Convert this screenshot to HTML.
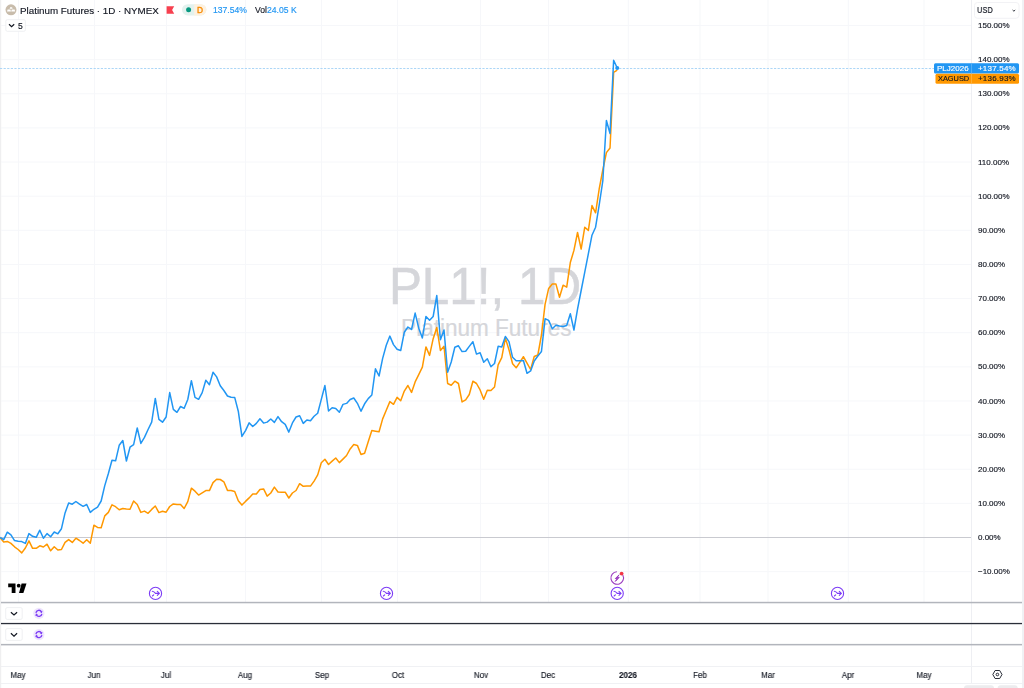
<!DOCTYPE html>
<html><head><meta charset="utf-8">
<style>
*{margin:0;padding:0;box-sizing:border-box}
html,body{width:1024px;height:688px;overflow:hidden;background:#fff;font-family:"Liberation Sans",sans-serif;color:#131722}
.t{position:absolute;white-space:pre;line-height:10px;will-change:transform;-webkit-text-stroke:0.15px currentColor}
svg{position:absolute;left:0;top:0}
.ax{font-size:8px;color:#131722;height:10px}
.mx{font-size:9px;color:#131722;width:60px;text-align:center;transform:scaleX(0.89)}
</style></head><body>
<svg width="1024" height="688" viewBox="0 0 1024 688">
<rect x="0" y="0" width="1.2" height="688" fill="#efeff0"/>
<rect x="1022" y="0" width="2" height="688" fill="#f0f1f4"/>
<rect x="18.0" y="0" width="1" height="602" fill="#f6f7fa"/><rect x="94.0" y="0" width="1" height="602" fill="#f6f7fa"/><rect x="166.0" y="0" width="1" height="602" fill="#f6f7fa"/><rect x="245.0" y="0" width="1" height="602" fill="#f6f7fa"/><rect x="321.0" y="0" width="1" height="602" fill="#f6f7fa"/><rect x="397.0" y="0" width="1" height="602" fill="#f6f7fa"/><rect x="480.0" y="0" width="1" height="602" fill="#f6f7fa"/><rect x="548.0" y="0" width="1" height="602" fill="#f6f7fa"/><rect x="627.8" y="0" width="1" height="602" fill="#f6f7fa"/><rect x="699.5" y="0" width="1" height="602" fill="#f6f7fa"/><rect x="767.5" y="0" width="1" height="602" fill="#f6f7fa"/><rect x="847.8" y="0" width="1" height="602" fill="#f6f7fa"/><rect x="923.5" y="0" width="1" height="602" fill="#f6f7fa"/><rect x="1" y="25.00" width="970" height="1" fill="#f6f7fa"/><rect x="1" y="59.14" width="970" height="1" fill="#f6f7fa"/><rect x="1" y="93.27" width="970" height="1" fill="#f6f7fa"/><rect x="1" y="127.40" width="970" height="1" fill="#f6f7fa"/><rect x="1" y="161.54" width="970" height="1" fill="#f6f7fa"/><rect x="1" y="195.67" width="970" height="1" fill="#f6f7fa"/><rect x="1" y="229.80" width="970" height="1" fill="#f6f7fa"/><rect x="1" y="263.94" width="970" height="1" fill="#f6f7fa"/><rect x="1" y="298.07" width="970" height="1" fill="#f6f7fa"/><rect x="1" y="332.20" width="970" height="1" fill="#f6f7fa"/><rect x="1" y="366.34" width="970" height="1" fill="#f6f7fa"/><rect x="1" y="400.47" width="970" height="1" fill="#f6f7fa"/><rect x="1" y="434.60" width="970" height="1" fill="#f6f7fa"/><rect x="1" y="468.73" width="970" height="1" fill="#f6f7fa"/><rect x="1" y="502.87" width="970" height="1" fill="#f6f7fa"/><rect x="1" y="571.13" width="970" height="1" fill="#f6f7fa"/>
<text transform="translate(388.9,304) scale(0.94,1)" font-family="Liberation Sans" font-size="52.6" fill="#d5d6da" stroke="#d5d6da" stroke-width="0.5">PL1!, 1D</text>
<text transform="translate(401.1,335.5) scale(0.932,1)" font-family="Liberation Sans" font-size="24.2" fill="#d5d6da" stroke="#d5d6da" stroke-width="0.25">Platinum Futures</text>
<rect x="1" y="537" width="970" height="1" fill="#c9cad0"/>
<line x1="0" y1="68.5" x2="934" y2="68.5" stroke="#acd6f7" stroke-width="1" stroke-dasharray="2.2 1.4"/>
<polyline points="0.10,537.80 3.71,541.90 7.32,541.40 10.93,543.40 14.54,546.80 18.15,549.50 21.75,552.90 25.36,548.00 28.97,540.90 32.58,548.30 36.19,548.30 39.80,545.80 43.41,547.00 47.02,544.20 50.63,550.80 54.23,546.80 57.84,550.00 61.45,549.50 65.06,542.40 68.67,539.60 72.28,542.40 75.89,538.20 79.50,540.50 83.11,543.20 86.72,539.70 90.32,543.20 93.93,525.20 97.54,527.40 101.15,527.80 104.76,515.90 108.37,512.40 111.98,504.80 115.59,506.70 119.20,509.80 122.81,508.50 126.41,508.90 130.02,509.20 133.63,501.00 137.24,504.50 140.85,512.40 144.46,511.10 148.07,513.30 151.68,509.40 155.29,506.00 158.90,512.60 162.50,511.30 166.11,512.20 169.72,506.50 173.33,503.90 176.94,504.60 180.55,504.60 184.16,508.50 187.77,501.60 191.38,488.20 194.99,491.20 198.59,495.10 202.20,492.80 205.81,490.60 209.42,490.60 213.03,482.60 216.64,479.20 220.25,479.50 223.86,481.80 227.47,490.40 231.08,490.60 234.69,491.50 238.29,500.70 241.90,505.10 245.51,501.40 249.12,497.90 252.73,494.10 256.34,493.90 259.95,489.60 263.56,488.90 267.17,496.10 270.78,493.00 274.38,487.10 277.99,492.00 281.60,492.20 285.21,492.20 288.82,498.00 292.43,493.00 296.04,490.50 299.65,483.70 303.26,486.30 306.87,485.90 310.47,486.10 314.08,481.10 317.69,474.90 321.30,462.70 324.91,459.30 328.52,464.50 332.13,461.10 335.74,458.00 339.35,462.60 342.96,459.10 346.56,455.50 350.17,448.90 353.78,444.60 357.39,445.40 361.00,454.50 364.61,453.20 368.22,441.80 371.83,430.60 375.44,431.20 379.05,431.80 382.65,418.90 386.26,410.30 389.87,401.60 393.48,404.30 397.09,397.40 400.70,400.80 404.31,391.10 407.92,385.50 411.53,392.40 415.14,381.90 418.74,374.70 422.35,367.20 425.96,346.90 429.57,355.40 433.18,338.70 436.79,327.50 440.40,350.40 444.01,346.30 447.62,383.50 451.23,385.20 454.83,381.20 458.44,383.50 462.05,401.90 465.66,399.80 469.27,394.50 472.88,381.20 476.49,383.50 480.10,389.90 483.71,399.20 487.31,390.20 490.92,390.50 494.53,387.00 498.14,364.90 501.75,357.70 505.36,338.10 508.97,349.80 512.58,363.70 516.19,367.80 519.80,362.30 523.40,356.70 527.01,363.10 530.62,369.50 534.23,356.50 537.84,355.00 541.45,335.00 545.06,304.40 548.67,288.40 552.28,284.10 555.89,283.90 559.50,297.20 563.10,285.20 566.71,287.10 570.32,262.50 573.93,250.40 577.54,232.50 581.15,249.10 584.76,227.20 588.37,230.40 591.98,205.60 595.59,212.80 599.19,189.00 602.80,170.00 606.41,152.60 610.02,148.00 613.63,72.40 617.24,70.10" fill="none" stroke="#ff9800" stroke-width="1.5" stroke-linejoin="round"/>
<polyline points="0.10,537.30 3.71,539.60 7.32,532.20 10.93,534.80 14.54,540.60 18.15,541.20 21.75,541.60 25.36,543.40 28.97,533.60 32.58,536.30 36.19,537.30 39.80,530.20 43.41,538.30 47.02,533.60 50.63,536.80 54.23,532.00 57.84,533.80 61.45,528.70 65.06,512.90 68.67,503.00 72.28,504.20 75.89,501.50 79.50,504.10 83.11,506.30 86.72,504.50 90.32,512.40 93.93,509.30 97.54,507.10 101.15,501.00 104.76,485.60 108.37,473.50 111.98,460.20 115.59,460.80 119.20,445.30 122.81,440.50 126.41,461.00 130.02,447.20 133.63,444.60 137.24,428.00 140.85,443.40 144.46,437.40 148.07,429.50 151.68,422.20 155.29,398.40 158.90,419.30 162.50,422.20 166.11,417.00 169.72,392.60 173.33,409.40 176.94,412.30 180.55,406.50 184.16,408.30 187.77,399.50 191.38,380.70 194.99,397.40 198.59,399.30 202.20,392.60 205.81,380.30 209.42,384.70 213.03,372.20 216.64,376.90 220.25,385.80 223.86,390.50 227.47,396.00 231.08,397.20 234.69,397.40 238.29,411.20 241.90,436.40 245.51,430.60 249.12,422.90 252.73,426.50 256.34,423.40 259.95,418.80 263.56,423.10 267.17,422.10 270.78,419.00 274.38,422.40 277.99,416.60 281.60,421.70 285.21,424.40 288.82,432.10 292.43,422.90 296.04,417.00 299.65,415.80 303.26,423.40 306.87,420.00 310.47,420.70 314.08,416.30 317.69,413.20 321.30,399.40 324.91,385.50 328.52,411.00 332.13,407.70 335.74,408.40 339.35,412.20 342.96,404.40 346.56,403.40 350.17,399.50 353.78,398.00 357.39,403.30 361.00,411.20 364.61,403.80 368.22,398.60 371.83,395.00 375.44,368.80 379.05,376.00 382.65,358.40 386.26,345.30 389.87,336.10 393.48,344.60 397.09,349.20 400.70,350.50 404.31,332.20 407.92,327.00 411.53,329.50 415.14,313.10 418.74,328.20 422.35,338.00 425.96,316.40 429.57,320.30 433.18,316.40 436.79,295.50 440.40,339.70 444.01,330.00 447.62,372.20 451.23,362.00 454.83,347.30 458.44,345.80 462.05,351.60 465.66,351.30 469.27,346.40 472.88,341.70 476.49,354.10 480.10,352.70 483.71,362.20 487.31,358.70 490.92,366.70 494.53,363.50 498.14,346.30 501.75,346.90 505.36,336.40 508.97,341.60 512.58,357.30 516.19,360.80 519.80,360.80 523.40,360.50 527.01,373.30 530.62,370.90 534.23,361.00 537.84,356.00 541.45,351.50 545.06,318.80 548.67,320.40 552.28,328.70 555.89,325.20 559.50,326.00 563.10,326.50 566.71,325.50 570.32,313.70 573.93,330.00 577.54,309.20 581.15,290.50 584.76,272.20 588.37,253.70 591.98,235.20 595.59,227.20 599.19,205.00 602.80,181.00 606.41,120.50 610.02,133.50 613.63,60.20 617.24,68.00" fill="none" stroke="#2196f3" stroke-width="1.5" stroke-linejoin="round"/>
<circle cx="617.24" cy="68" r="2" fill="#2196f3"/>
<rect x="971" y="0" width="1" height="683" fill="#eeeff3"/>
<rect x="1" y="601.8" width="1021" height="1.5" fill="#b2b5bc"/>
<rect x="1" y="622.9" width="1021" height="1.3" fill="#2a2e39"/>
<rect x="1" y="643.9" width="1021" height="1.5" fill="#b2b5bc"/>
<rect x="1" y="666" width="1021" height="1" fill="#f0f1f4"/>
<rect x="1" y="683" width="1021" height="1" fill="#f0f1f4"/>
<!-- header icon -->
<circle cx="11" cy="9.8" r="5.5" fill="#c8bcab"/>
<path d="M9.6,8.7 l0.5,-1.4 h2 l0.5,1.4 z M7,11.6 l0.6,-2.1 h2.8 l0.6,2.1 z M11.2,11.6 l0.6,-2.1 h2.8 l0.6,2.1 z" fill="#fff"/>
<!-- flag -->
<path d="M166.6,6.15 h7.6 l-2.1,3.8 l2.1,3.75 h-7.6 z" fill="#f7404f"/>
<!-- pill -->
<rect x="182" y="4.2" width="24.4" height="11.2" rx="5.6" fill="#e3f2ee"/>
<path d="M194.2,4.2 h6.6 a5.6,5.6 0 0 1 0,11.2 h-6.6 z" fill="#fef1df"/>
<circle cx="188.6" cy="9.8" r="2.5" fill="#089981"/>
<!-- 5 box -->
<rect x="5.8" y="19.7" width="19.6" height="11.6" rx="1.5" fill="#fff" stroke="#ebecef" stroke-width="0.8"/>
<path d="M9,24.3 l2.6,2.4 l2.6,-2.4" fill="none" stroke="#131722" stroke-width="1.2"/>
<!-- USD box -->
<rect x="974.5" y="2.5" width="44.5" height="15.8" rx="3" fill="#fff" stroke="#f0f1f4" stroke-width="0.9"/>
<path d="M1012.6,10 l1.3,1.2 l1.3,-1.2" fill="none" stroke="#131722" stroke-width="0.9"/>
<!-- price labels -->
<rect x="934" y="63.2" width="85" height="10.3" rx="1.5" fill="#2196f3"/>
<rect x="971" y="63.2" width="0.8" height="10.3" fill="#5eb3f6"/>
<rect x="935.5" y="73.8" width="83.5" height="10" rx="1.5" fill="#ff9800"/>
<rect x="971" y="73.8" width="0.8" height="10" fill="#ffb33f"/>
<!-- TV logo -->
<path d="M8.2,583.6 h7.3 v9.4 h-3.8 v-5.7 h-3.5 z" fill="#000"/>
<circle cx="18.7" cy="585.7" r="1.9" fill="#000"/>
<path d="M21.6,583.6 h4.9 l-3.1,9.4 h-4.4 z" fill="#000"/>
<!-- events -->
<g transform="translate(155.5,593.4)" fill="none" stroke="#7c3cf5" stroke-linecap="round" stroke-linejoin="round">
<circle r="6.1" stroke-width="1.1"/>
<path d="M-3.2,-2.1 Q-1.5,-2 0,0 L3.8,0 M1.8,-2 L3.9,0 L1.8,2 M-3.1,2.6 L-1.8,1.4" stroke-width="1.1"/>
</g>
<g transform="translate(386.5,593.4)" fill="none" stroke="#7c3cf5" stroke-linecap="round" stroke-linejoin="round">
<circle r="6.1" stroke-width="1.1"/>
<path d="M-3.2,-2.1 Q-1.5,-2 0,0 L3.8,0 M1.8,-2 L3.9,0 L1.8,2 M-3.1,2.6 L-1.8,1.4" stroke-width="1.1"/>
</g>
<g transform="translate(617.2,593.4)" fill="none" stroke="#7c3cf5" stroke-linecap="round" stroke-linejoin="round">
<circle r="6.1" stroke-width="1.1"/>
<path d="M-3.2,-2.1 Q-1.5,-2 0,0 L3.8,0 M1.8,-2 L3.9,0 L1.8,2 M-3.1,2.6 L-1.8,1.4" stroke-width="1.1"/>
</g>
<g transform="translate(837.5,593.4)" fill="none" stroke="#7c3cf5" stroke-linecap="round" stroke-linejoin="round">
<circle r="6.1" stroke-width="1.1"/>
<path d="M-3.2,-2.1 Q-1.5,-2 0,0 L3.8,0 M1.8,-2 L3.9,0 L1.8,2 M-3.1,2.6 L-1.8,1.4" stroke-width="1.1"/>
</g>
<g transform="translate(617.2,578)">
<path d="M5.6,-2.9 A6.3,6.3 0 1 1 -0.3,-6.3" fill="none" stroke="#9c3dc0" stroke-width="1.1"/>
<path d="M1.9,-3.2 L-1.9,0.6 L0.2,0.6 L-1.9,3.4 L2,-0.6 L-0.1,-0.6 Z" fill="#9c3dc0" stroke="#9c3dc0" stroke-width="1" stroke-linejoin="round"/>
<circle cx="4.4" cy="-4.4" r="1.9" fill="#f23645"/>
</g>
<!-- pane controls -->
<rect x="5.7" y="607.6" width="16.5" height="11.8" rx="1.5" fill="#fff" stroke="#ebecef" stroke-width="0.8"/>
<path d="M10.9,612.2 l3.1,2.8 l3.1,-2.8" fill="none" stroke="#131722" stroke-width="1.2"/>
<rect x="5.7" y="628.6" width="16.5" height="11.8" rx="1.5" fill="#fff" stroke="#ebecef" stroke-width="0.8"/>
<path d="M10.9,633.3 l3.1,2.8 l3.1,-2.8" fill="none" stroke="#131722" stroke-width="1.2"/>
<g transform="translate(38.9,613.3)"><circle r="5.6" fill="#efe6fd"/><path d="M-3,-0.5 A3,3 0 0 1 2.6,-1.5 M3,0.5 A3,3 0 0 1 -2.6,1.5" fill="none" stroke="#7c3cf5" stroke-width="1.3"/><path d="M3.6,-2.6 L2.9,0 L0.8,-1.6 Z M-3.6,2.6 L-2.9,0 L-0.8,1.6 Z" fill="#7c3cf5"/></g>
<g transform="translate(38.9,634.6)"><circle r="5.6" fill="#efe6fd"/><path d="M-3,-0.5 A3,3 0 0 1 2.6,-1.5 M3,0.5 A3,3 0 0 1 -2.6,1.5" fill="none" stroke="#7c3cf5" stroke-width="1.3"/><path d="M3.6,-2.6 L2.9,0 L0.8,-1.6 Z M-3.6,2.6 L-2.9,0 L-0.8,1.6 Z" fill="#7c3cf5"/></g>
<!-- settings hex -->
<g transform="translate(997.4,674.5)"><path d="M-4.6,0 L-2.3,-4 L2.3,-4 L4.6,0 L2.3,4 L-2.3,4 Z" fill="none" stroke="#131722" stroke-width="0.9"/><circle r="1.3" fill="none" stroke="#131722" stroke-width="0.9"/></g>
<!-- bottom shapes -->
<rect x="964" y="685.3" width="30" height="8" rx="3" fill="#ececee"/>
<rect x="997.6" y="685.3" width="20.2" height="8" rx="3" fill="#ececee"/>
</svg>
<div class="t" style="left:19.7px;top:5.5px;font-size:9.8px;color:#131722">Platinum Futures · 1D · NYMEX</div>
<div class="t" style="left:197.3px;top:4.6px;font-size:8.4px;color:#f68a00;-webkit-text-stroke:0.35px #f68a00">D</div>
<div class="t" style="left:212.5px;top:5.3px;font-size:8.6px;color:#2196f3">137.54%</div>
<div class="t" style="left:254.7px;top:5.3px;font-size:8.6px;color:#131722">Vol</div>
<div class="t" style="left:266.6px;top:5.3px;font-size:8.6px;color:#2196f3">24.05 K</div>
<div class="t" style="left:17.5px;top:21px;font-size:8.6px;color:#131722">5</div>
<div class="t" style="left:976.5px;top:5.3px;font-size:9px;color:#131722;transform:scaleX(0.83);transform-origin:0 0">USD</div>
<div class="t" style="left:937px;top:64px;font-size:8px;color:#fff">PLJ2026</div>
<div class="t" style="left:977.6px;top:64px;font-size:8px;letter-spacing:0.2px;color:#fff">+137.54%</div>
<div class="t" style="left:938px;top:74px;font-size:7.4px;color:#131722">XAGUSD</div>
<div class="t" style="left:977.6px;top:74px;font-size:8px;letter-spacing:0.2px;color:#131722">+136.93%</div>
<div class="t ax" style="left:978.2px;top:21.0px">150.00%</div><div class="t ax" style="left:978.2px;top:55.1px">140.00%</div><div class="t ax" style="left:978.2px;top:89.3px">130.00%</div><div class="t ax" style="left:978.2px;top:123.4px">120.00%</div><div class="t ax" style="left:978.2px;top:157.5px">110.00%</div><div class="t ax" style="left:978.2px;top:191.7px">100.00%</div><div class="t ax" style="left:978.2px;top:225.8px">90.00%</div><div class="t ax" style="left:978.2px;top:259.9px">80.00%</div><div class="t ax" style="left:978.2px;top:294.1px">70.00%</div><div class="t ax" style="left:978.2px;top:328.2px">60.00%</div><div class="t ax" style="left:978.2px;top:362.3px">50.00%</div><div class="t ax" style="left:978.2px;top:396.5px">40.00%</div><div class="t ax" style="left:978.2px;top:430.6px">30.00%</div><div class="t ax" style="left:978.2px;top:464.7px">20.00%</div><div class="t ax" style="left:978.2px;top:498.9px">10.00%</div><div class="t ax" style="left:978.2px;top:533.0px">0.00%</div><div class="t ax" style="left:978.2px;top:567.1px">−10.00%</div>
<div class="t mx" style="left:-11.8px;top:670.2px;font-weight:normal">May</div><div class="t mx" style="left:64px;top:670.2px;font-weight:normal">Jun</div><div class="t mx" style="left:136.3px;top:670.2px;font-weight:normal">Jul</div><div class="t mx" style="left:215.4px;top:670.2px;font-weight:normal">Aug</div><div class="t mx" style="left:291.5px;top:670.2px;font-weight:normal">Sep</div><div class="t mx" style="left:367.5px;top:670.2px;font-weight:normal">Oct</div><div class="t mx" style="left:450.5px;top:670.2px;font-weight:normal">Nov</div><div class="t mx" style="left:518.4px;top:670.2px;font-weight:normal">Dec</div><div class="t mx" style="left:598px;top:670.2px;font-weight:bold">2026</div><div class="t mx" style="left:670px;top:670.2px;font-weight:normal">Feb</div><div class="t mx" style="left:738px;top:670.2px;font-weight:normal">Mar</div><div class="t mx" style="left:818px;top:670.2px;font-weight:normal">Apr</div><div class="t mx" style="left:894px;top:670.2px;font-weight:normal">May</div>
</body></html>
